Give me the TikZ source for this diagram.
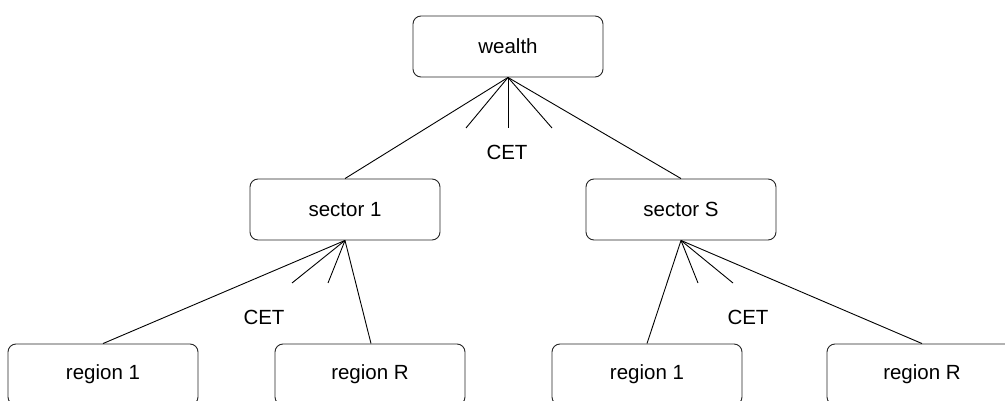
\documentclass[tikz,border=0pt]{standalone}
\usepackage{fontspec}
\setmainfont{Liberation Sans}
\begin{document}
\begin{tikzpicture}[x=1pt,y=-1pt,
  box/.style={draw=black!85, line width=0.9pt, rounded corners=8pt, minimum width=190pt, minimum height=61pt, inner sep=0pt, font=\fontsize{20.5}{24}\selectfont},
  lbl/.style={inner sep=0pt, font=\fontsize{20.5}{24}\selectfont},
  conn/.style={line width=0.9pt, black}]
\useasboundingbox (0,0) rectangle (1005,401);
\clip (0,0) rectangle (1005,401);
\node[box] (w) at (508,46.5) {wealth};
\node[box] (s1) at (345,209.5) {sector 1};
\node[box] (sS) at (681,209.5) {sector S};
\node[box] (r1) at (103,374.5) {region 1};
\node[box] (rR) at (370,374.5) {region R};
\node[box] (r1b) at (647,374.5) {region 1};
\node[box] (rRb) at (922,374.5) {region R};
\coordinate (a1) at (466,128);
\coordinate (a2) at (508,128);
\coordinate (a3) at (552,128);
\coordinate (b1) at (292,283);
\coordinate (b2) at (328,283);
\coordinate (c1) at (698,283);
\coordinate (c2) at (733,283);
\node[lbl] (cet1) at (507,152) {CET};
\node[lbl] (cet2) at (264,317) {CET};
\node[lbl] (cet3) at (748,317) {CET};
\draw[conn] (w.south) -- (s1.north);
\draw[conn] (w.south) -- (sS.north);
\draw[conn] (w.south) -- (a1);
\draw[conn] (w.south) -- (a2);
\draw[conn] (w.south) -- (a3);
\draw[conn] (s1.south) -- (r1.north);
\draw[conn] (s1.south) -- ([xshift=1pt]rR.north);
\draw[conn] (s1.south) -- (b1);
\draw[conn] (s1.south) -- (b2);
\draw[conn] (sS.south) -- (r1b.north);
\draw[conn] (sS.south) -- (rRb.north);
\draw[conn] (sS.south) -- (c1);
\draw[conn] (sS.south) -- (c2);
\end{tikzpicture}
\end{document}
